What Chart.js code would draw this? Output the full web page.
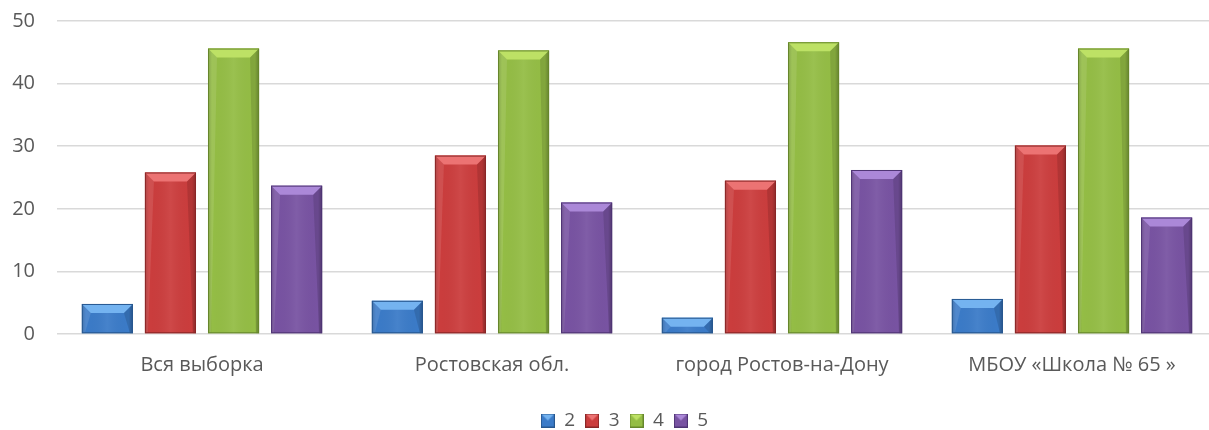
<!DOCTYPE html>
<html>
<head>
<meta charset="utf-8">
<script src="https://cdn.jsdelivr.net/npm/chart.js@4"></script>
<style>
  html, body { margin: 0; padding: 0; background: #fff; overflow: hidden; }
  #wrap { width: 1209px; height: 430px; overflow: hidden; }
</style>
</head>
<body>
<div id="wrap"><canvas id="gradeChart" width="1217" height="440"></canvas></div>
<script>
// categories and series
const categories = ['Вся выборка', 'Ростовская обл.', 'город Ростов-на-Дону', 'МБОУ «Школа № 65 »'];
const seriesNames = ['2', '3', '4', '5'];
const grade2 = [4.8, 5.3, 2.6, 5.6];
const grade3 = [25.8, 28.5, 24.5, 30.1];
const grade4 = [45.6, 45.3, 46.6, 45.6];
const grade5 = [23.7, 21.0, 26.2, 18.6];
const yTicks = [0, 10, 20, 30, 40, 50];

const fills = ['#3b7bc8', '#cb3d3d', '#94bd45', '#7853a2'];
const lights = ['#74b3f0', '#ec7373', '#bde165', '#ab88d8'];
const darks = ['#27578f', '#8a2727', '#66872c', '#4f3575'];

const fontFamily = "'Open Sans', 'Liberation Sans', sans-serif";

// small bevelled square used as legend marker
function legendIcon(i) {
  const c = document.createElement('canvas');
  c.width = 14; c.height = 14;
  const x = c.getContext('2d');
  x.fillStyle = fills[i];
  x.fillRect(0, 0, 14, 14);
  x.fillStyle = lights[i];
  x.beginPath();
  x.moveTo(0, 0); x.lineTo(14, 0); x.lineTo(7, 7); x.closePath();
  x.fill();
  x.strokeStyle = darks[i];
  x.strokeRect(0.5, 0.5, 13, 13);
  return c;
}

// draws a bevelled top and edges on every bar
const bevelPlugin = {
  id: 'bevel',
  afterLayout(chart) {
    // legend in the picture sits a little right of centre
    chart.legend.left += 16;
    chart.legend.right += 16;
  },
  afterDatasetsDraw(chart) {
    const ctx = chart.ctx;
    chart.data.datasets.forEach((ds, i) => {
      const meta = chart.getDatasetMeta(i);
      meta.data.forEach(bar => {
        const left = bar.x - bar.width / 2;
        const right = bar.x + bar.width / 2;
        const top = bar.y;
        const bottom = bar.base;
        const h = bottom - top;
        const b = Math.min(9, h);
        ctx.save();
        // side shading
        const g = ctx.createLinearGradient(left, 0, right, 0);
        g.addColorStop(0, 'rgba(0,0,0,0.18)');
        g.addColorStop(0.08, 'rgba(0,0,0,0.0)');
        g.addColorStop(0.5, 'rgba(255,255,255,0.06)');
        g.addColorStop(0.92, 'rgba(0,0,0,0.0)');
        g.addColorStop(1, 'rgba(0,0,0,0.22)');
        ctx.fillStyle = g;
        ctx.fillRect(left, top, right - left, h);
        // top bevel
        ctx.beginPath();
        ctx.moveTo(left, top);
        ctx.lineTo(right, top);
        ctx.lineTo(right - b, top + b);
        ctx.lineTo(left + b, top + b);
        ctx.closePath();
        ctx.fillStyle = lights[i];
        ctx.fill();
        // left and right bevel faces
        ctx.beginPath();
        ctx.moveTo(left, top);
        ctx.lineTo(left + b, top + b);
        ctx.lineTo(left + 3, bottom);
        ctx.lineTo(left, bottom);
        ctx.closePath();
        ctx.fillStyle = 'rgba(255,255,255,0.10)';
        ctx.fill();
        ctx.beginPath();
        ctx.moveTo(right, top);
        ctx.lineTo(right - b, top + b);
        ctx.lineTo(right - 3, bottom);
        ctx.lineTo(right, bottom);
        ctx.closePath();
        ctx.fillStyle = 'rgba(0,0,0,0.12)';
        ctx.fill();
        // outline
        ctx.strokeStyle = darks[i];
        ctx.lineWidth = 1;
        ctx.strokeRect(left + 0.5, top + 0.5, right - left - 1, h - 1);
        ctx.restore();
      });
    });
  }
};

const allSeries = [grade2, grade3, grade4, grade5];
const icons = seriesNames.map((n, i) => legendIcon(i));

new Chart(document.getElementById('gradeChart').getContext('2d'), {
  type: 'bar',
  data: {
    labels: categories,
    datasets: allSeries.map((vals, i) => ({
      label: seriesNames[i],
      data: vals,
      backgroundColor: fills[i],
      borderColor: darks[i],
      borderWidth: 0,
      categoryPercentage: 0.87,
      barPercentage: 0.81
    }))
  },
  options: {
    responsive: false,
    animation: false,
    layout: { padding: { top: 21, left: 0, right: 0, bottom: 0 } },
    plugins: {
      tooltip: { enabled: false },
      legend: {
        position: 'bottom',
        align: 'center',
        labels: {
          usePointStyle: true,
          boxWidth: 14,
          boxHeight: 14,
          padding: 10,
          color: '#595959',
          font: { family: fontFamily, size: 19 },
          generateLabels: chart => seriesNames.map((n, i) => ({
            text: n,
            fillStyle: fills[i],
            strokeStyle: darks[i],
            pointStyle: icons[i],
            lineWidth: 1,
            datasetIndex: i,
            fontColor: '#595959'
          }))
        }
      }
    },
    scales: {
      x: {
        grid: { display: false, drawTicks: false },
        border: { display: false },
        ticks: {
          color: '#595959',
          padding: 19,
          maxRotation: 0,
          font: { family: fontFamily, size: 20 }
        },
        afterFit: scale => { scale.height = 67; }
      },
      y: {
        min: 0,
        max: 50,
        afterBuildTicks: scale => { scale.ticks = yTicks.map(v => ({ value: v })); },
        grid: { color: '#d9d9d9', lineWidth: 1.5, drawTicks: false },
        border: { display: false },
        ticks: {
          color: '#595959',
          padding: 22,
          font: { family: fontFamily, size: 20 }
        },
        afterFit: scale => {
          scale.width = 57;
          scale.paddingTop = 0;
          scale.paddingBottom = 0;
        }
      }
    }
  },
  plugins: [bevelPlugin]
});
</script>
</body>
</html>
